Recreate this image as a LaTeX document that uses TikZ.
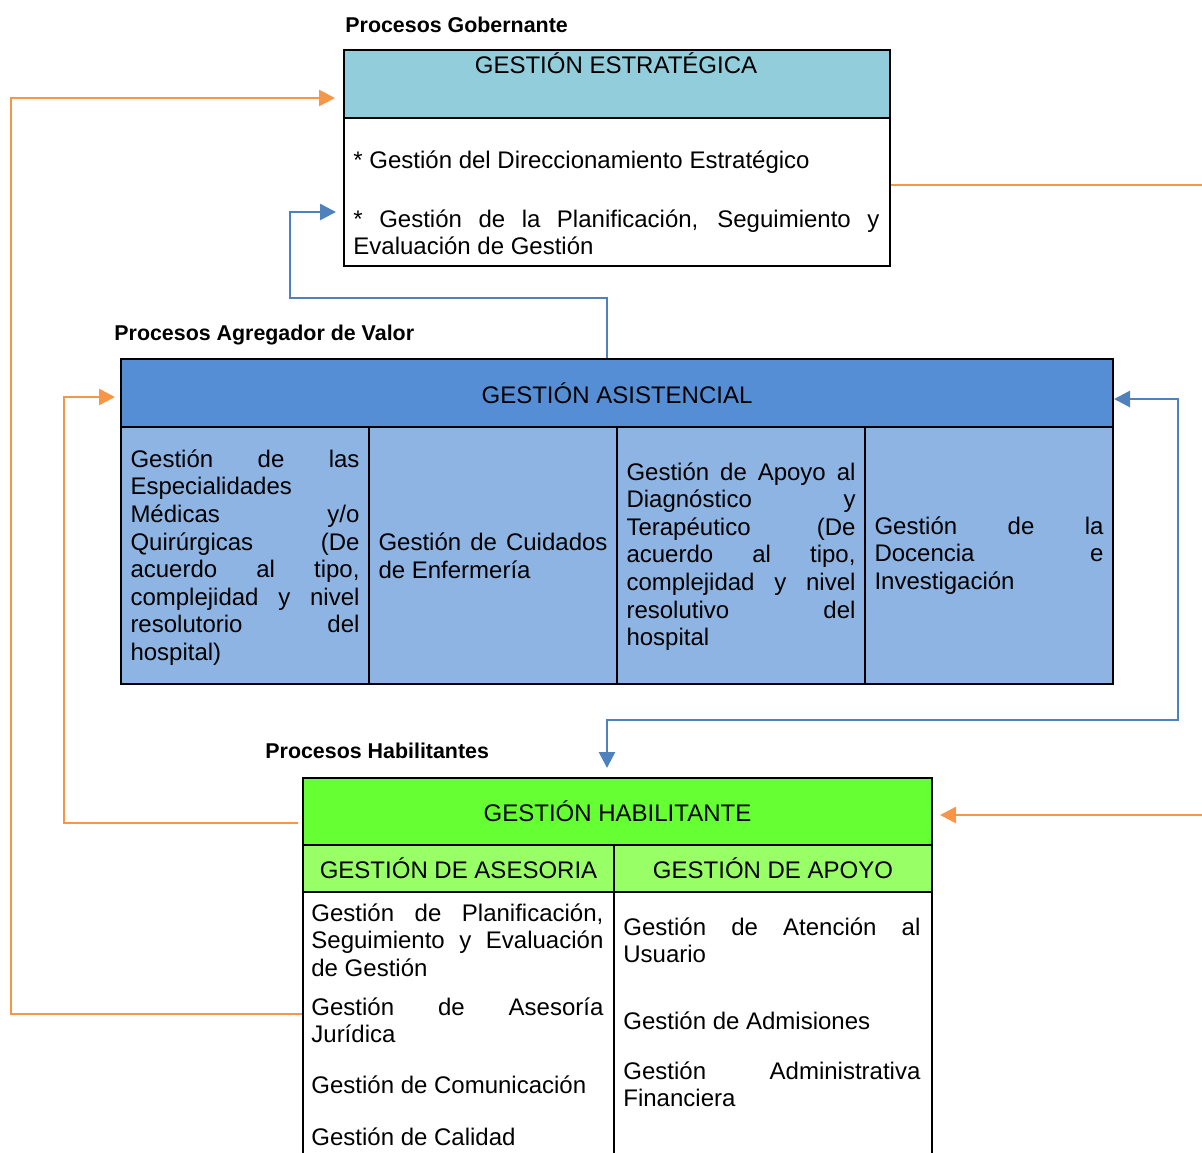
\documentclass[tikz,border=0pt]{standalone}
\usepackage{fontspec}
\setmainfont{Liberation Sans}
\usepackage{xcolor}
\usetikzlibrary{positioning, arrows.meta}
\definecolor{govblue}{HTML}{92CDDC}
\definecolor{asisblue}{HTML}{558ED5}
\definecolor{asiscell}{HTML}{8EB4E3}
\definecolor{habgreen}{HTML}{66FF33}
\definecolor{subgreen}{HTML}{99FF66}
\definecolor{linkorange}{HTML}{F79646}
\definecolor{linkblue}{HTML}{4F81BD}
\tolerance=10000
\hyphenpenalty=10000

\begin{document}
\begin{tikzpicture}[x=0.5pt, y=-0.5pt,
    cellbox/.style={draw, line width=1pt, inner sep=0pt, anchor=north west},
    bodytext/.style={inner sep=0pt, font=\fontsize{12}{13.8}\selectfont},
    justtext/.style={bodytext, align=justify, text width=#1},
    tag/.style={inner sep=0pt, anchor=base west, font=\fontsize{10.7}{12}\selectfont\bfseries},
    >={Triangle[length=8pt, width=8pt]},
    orangeflow/.style={linkorange, line width=1.3pt},
    blueflow/.style={linkblue, line width=1.3pt}]
    \useasboundingbox (0,0) rectangle (1202,1152);

    % Procesos gobernantes
    \node[tag] (govtag) at (345,32) {Procesos Gobernante};
    \node[cellbox, fill=govblue, minimum width=273pt, minimum height=34pt] (est) at (343,49) {};
    \node[bodytext, anchor=base] (esttitle) at (616,73) {GESTIÓN ESTRATÉGICA};
    \node[cellbox, minimum width=273pt, minimum height=74pt] (estbody) at (343,117) {};
    \node[bodytext, anchor=base west] (est1) at (353,168) {* Gestión del Direccionamiento Estratégico};
    \node[justtext=263pt, anchor=base west] (est2) at (353,227)
        {* Gestión de la Planificación, Seguimiento y\linebreak Evaluación de Gestión};

    % Procesos agregadores de valor
    \node[tag] (asistag) at (114,340) {Procesos Agregador de Valor};
    \node[cellbox, fill=asisblue, minimum width=496pt, minimum height=34pt, font=\fontsize{12}{13.8}\selectfont] (asis) at (120,358) {GESTIÓN ASISTENCIAL};
    \foreach \i/\x in {1/120, 2/368, 3/616, 4/864}
        \node[cellbox, fill=asiscell, minimum width=124pt, minimum height=128.5pt] (col\i) at (\x,426) {};
    \node[justtext=114.5pt] (esp) at ([yshift=-1pt]col1.center)
        {Gestión de las\linebreak Especialidades\linebreak Médicas y/o\linebreak Quirúrgicas (De\linebreak acuerdo al tipo,\linebreak complejidad y nivel\linebreak resolutorio del\linebreak hospital)};
    \node[justtext=114.5pt] (enf) at (col2.center)
        {Gestión de Cuidados\linebreak de Enfermería};
    \node[justtext=114.5pt] (diag) at ([yshift=-0.5pt]col3.center)
        {Gestión de Apoyo al\linebreak Diagnóstico y\linebreak Terapéutico (De\linebreak acuerdo al tipo,\linebreak complejidad y nivel\linebreak resolutivo del\linebreak hospital};
    \node[justtext=114.5pt] (doc) at (col4.center)
        {Gestión de la\linebreak Docencia e\linebreak Investigación};

    % Procesos habilitantes
    \node[tag] (habtag) at (265,758) {Procesos Habilitantes};
    \node[cellbox, fill=habgreen, minimum width=314.5pt, minimum height=33.5pt, font=\fontsize{12}{13.8}\selectfont] (hab) at (302,777) {GESTIÓN HABILITANTE};
    \node[cellbox, fill=subgreen, minimum width=155.5pt, minimum height=23.5pt, font=\fontsize{12}{13.8}\selectfont] (ase) at (302,844) {GESTIÓN DE ASESORIA};
    \node[cellbox, fill=subgreen, minimum width=159pt, minimum height=23.5pt, font=\fontsize{12}{13.8}\selectfont] (apo) at (613,844) {GESTIÓN DE APOYO};
    \node[cellbox, minimum width=155.5pt, minimum height=136pt] (asebody) at (302,891) {};
    \node[cellbox, minimum width=159pt, minimum height=136pt] (apobody) at (613,891) {};

    \node[justtext=146pt, anchor=base west] (plan) at (311,921)
        {Gestión de Planificación,\linebreak Seguimiento y Evaluación\linebreak de Gestión};
    \node[justtext=146pt, anchor=base west] (jur) at (311,1015)
        {Gestión de Asesoría\linebreak Jurídica};
    \node[bodytext, anchor=base west] (com) at (311,1093) {Gestión de Comunicación};
    \node[bodytext, anchor=base west] (cal) at (311,1145) {Gestión de Calidad};
    \node[justtext=148.5pt, anchor=base west] (usu) at (623,935)
        {Gestión de Atención al\linebreak Usuario};
    \node[bodytext, anchor=base west] (adm) at (623,1029) {Gestión de Admisiones};
    \node[justtext=148.5pt, anchor=base west] (fin) at (623,1079)
        {Gestión Administrativa\linebreak Financiera};

    % Conectores
    \coordinate (o1) at (11,1014);
    \coordinate (o1top) at (11,98);
    \draw[orangeflow, ->] (asebody.west |- o1) -- (o1) -- (o1top) -- ([xshift=-4pt]est.west |- o1top);

    \coordinate (o2) at (64,823);
    \coordinate (o2top) at (64,397);
    \draw[orangeflow, ->] ([xshift=-2pt]hab.west |- o2) -- (o2) -- (o2top) -- ([xshift=-2.5pt]asis.west |- o2top);

    \coordinate (o3) at (1202,185);
    \coordinate (o3low) at (1202,815);
    \draw[orangeflow] (estbody.east |- o3) -- (o3);
    \draw[orangeflow, ->] (o3low) -- ([xshift=3.5pt]hab.east |- o3low);

    \coordinate (b4) at (607,298);
    \coordinate (b4left) at (290,298);
    \coordinate (b4top) at (290,212);
    \draw[blueflow, ->] (asis.north -| b4) -- (b4) -- (b4left) -- (b4top) -- ([xshift=-3.5pt]estbody.west |- b4top);

    \coordinate (b5) at (1178,399);
    \coordinate (b5low) at (1178,720);
    \coordinate (b5mid) at (607,720);
    \draw[blueflow, <->] ([yshift=4.5pt]hab.north -| b5mid) -- (b5mid) -- (b5low) -- (b5) -- (asis.east |- b5);
\end{tikzpicture}
\end{document}
